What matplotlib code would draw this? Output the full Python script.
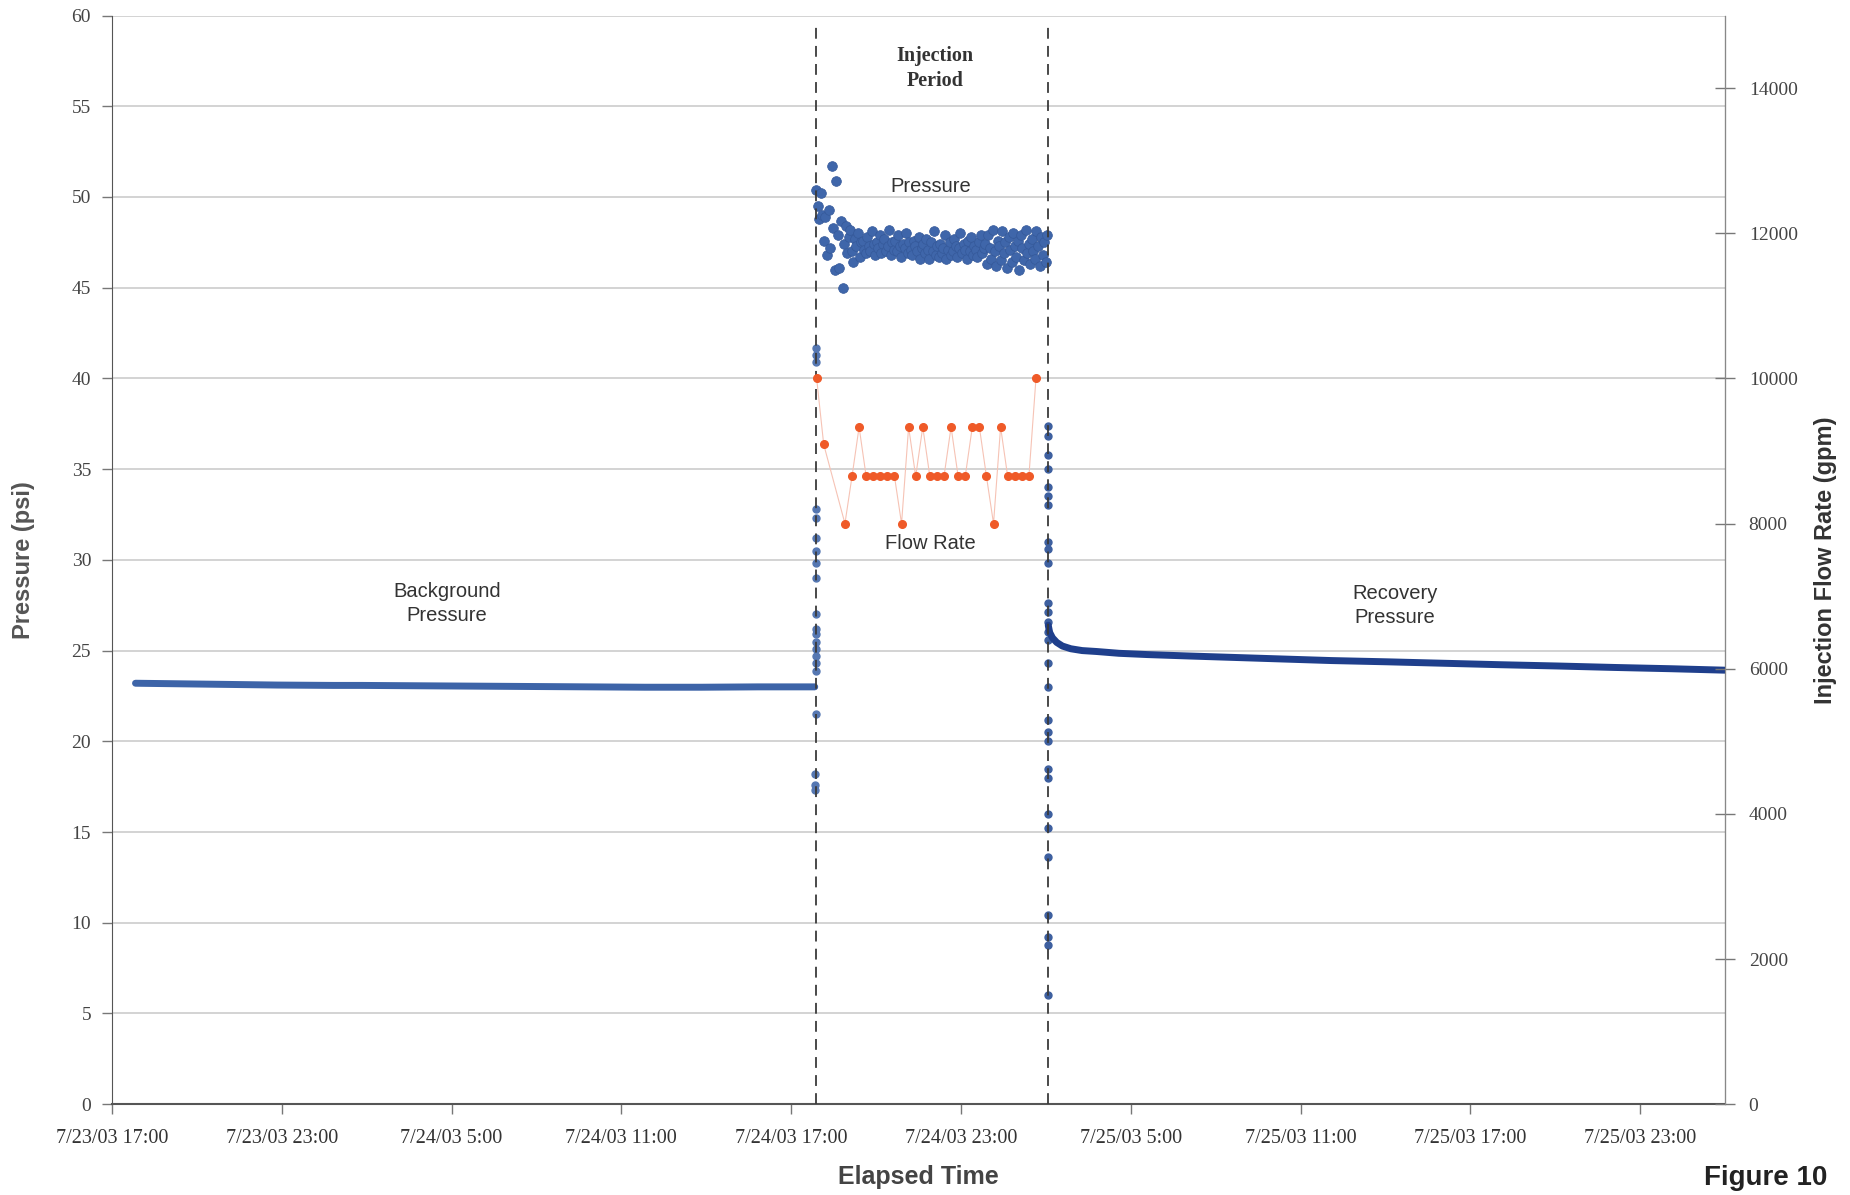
import numpy as np
import pandas as pd
import matplotlib
matplotlib.use("Agg")
import matplotlib.pyplot as plt

# ---- data ----
# background pressure (psi), hourly before injection
bg_start = "2003-07-23 17:50"
bg_pressure = [23.20, 23.18, 23.16, 23.14, 23.12, 23.10, 23.09, 23.08, 23.08, 23.07,
               23.06, 23.05, 23.04, 23.03, 23.02, 23.01, 23.00, 22.99, 22.98, 22.98,
               22.98, 22.99, 23.00, 23.00, 23.00]

# injection period pressure (psi), logger samples between start and end
inj_start = "2003-07-24 17:53"
inj_end = "2003-07-25 02:03"
inj_pressure = [50.4, 49.5, 48.8, 50.2, 49.0, 47.6, 48.9, 46.8, 49.3, 47.2,
                51.7, 48.3, 46.0, 50.9, 47.9, 46.1, 48.7, 45.0, 47.4, 48.4,
                46.9, 47.8, 48.2, 47.0, 46.4, 47.7, 47.3, 48.0, 46.7, 47.5,
                47.6, 47.1, 46.9, 47.8, 47.3, 47.0, 48.1, 47.4, 46.8, 47.5,
                47.2, 47.9, 46.9, 47.4, 47.7, 47.0, 47.3, 48.2, 46.8, 47.5,
                47.1, 47.6, 47.0, 47.9, 47.3, 46.7, 47.4, 47.2, 48.0, 46.9,
                47.5, 47.1, 46.8, 47.6, 47.3, 47.0, 47.8, 46.6, 47.2, 47.4,
                46.9, 47.7, 47.1, 46.6, 47.5, 47.0, 48.1, 46.8, 47.3, 46.7,
                47.4, 46.9, 47.2, 47.9, 46.6, 47.1, 47.5, 46.8, 47.0, 47.7,
                47.3, 46.7, 47.2, 48.0, 46.9, 47.4, 47.1, 46.6, 47.6, 47.0,
                47.8, 46.8, 47.3, 47.1, 46.7, 47.5, 47.9, 46.9, 47.2, 47.4,
                46.3, 47.9, 47.2, 46.6, 48.2, 47.0, 46.2, 47.6, 47.3, 46.5,
                48.1, 46.9, 47.5, 46.1, 47.8, 47.1, 46.4, 48.0, 47.3, 46.7,
                47.6, 46.0, 47.9, 47.2, 46.5, 48.2, 46.9, 47.4, 46.3, 47.7,
                47.0, 46.6, 48.1, 47.3, 46.2, 47.8, 46.8, 47.5, 46.4, 47.9]

# pressure readings while pump was switching on / off
on_times = ["2003-07-24 17:51", "2003-07-24 17:51", "2003-07-24 17:51", "2003-07-24 17:52",
            "2003-07-24 17:52", "2003-07-24 17:52", "2003-07-24 17:52", "2003-07-24 17:52",
            "2003-07-24 17:52", "2003-07-24 17:52", "2003-07-24 17:52", "2003-07-24 17:52",
            "2003-07-24 17:52", "2003-07-24 17:52", "2003-07-24 17:52", "2003-07-24 17:52",
            "2003-07-24 17:52", "2003-07-24 17:52", "2003-07-24 17:53", "2003-07-24 17:53",
            "2003-07-24 17:53"]
on_pressure = [17.3, 17.6, 18.2, 21.5, 23.9, 24.3, 24.7, 25.1, 25.5, 25.9, 26.2,
               27.0, 29.0, 29.8, 30.5, 31.2, 32.3, 32.8, 40.9, 41.3, 41.7]
off_times = ["2003-07-25 02:04"] * 29
off_pressure = [37.4, 36.8, 35.8, 35.0, 34.0, 33.5, 33.0, 31.0, 30.6, 29.8, 27.6,
                27.1, 26.6, 26.0, 25.6, 24.3, 23.0, 21.2, 20.5, 20.0, 18.5, 18.0,
                16.0, 15.2, 13.6, 10.4, 9.2, 8.8, 6.0]

# recovery pressure (hours after pump off, psi)
rec_start = "2003-07-25 02:05"
rec_hours = [0.0, 0.05, 0.15, 0.3, 0.5, 0.8, 1.2, 1.7, 2.5, 3.5, 5, 6, 7, 8, 10,
             12, 14, 16, 18, 20, 22, 23.9]
rec_pressure = [26.4, 26.0, 25.7, 25.45, 25.25, 25.1, 25.0, 24.95, 24.85, 24.78,
                24.7, 24.65, 24.6, 24.55, 24.45, 24.38, 24.3, 24.22, 24.15, 24.07,
                24.0, 23.92]

# flow rate (gpm), 15 minute readings (index from 17:54)
flow_index = [0, 1, 4, 5, 6, 7, 8, 9, 10, 11, 12, 13, 14, 15, 16, 17, 18, 19, 20,
              21, 22, 23, 24, 25, 26, 27, 28, 29, 30, 31]
flow_rate = [10000, 9090, 8000, 8650, 9330, 8650, 8650, 8650, 8650, 8650, 8000,
             9330, 8650, 9330, 8650, 8650, 8650, 9330, 8650, 8650, 9330, 9330,
             8650, 8000, 9330, 8650, 8650, 8650, 8650, 10000]

x_ticks = pd.date_range("2003-07-23 17:00", "2003-07-25 23:00", freq="6h")

# ---- build time columns ----
bg_t = pd.date_range(bg_start, periods=len(bg_pressure), freq="1h")
inj_t = pd.date_range(inj_start, inj_end, periods=len(inj_pressure))
rec_t = pd.Timestamp(rec_start) + pd.to_timedelta(rec_hours, unit="h")
flow_t = pd.Timestamp("2003-07-24 17:54") + pd.to_timedelta(np.array(flow_index) * 15, unit="min")

# ---- plot ----
fig = plt.figure(figsize=(18.5, 11.95), dpi=100)
ax = fig.add_axes([0.0605, 0.076, 0.872, 0.911])
ax2 = ax.twinx()

blue = "#3d64a8"
dark_blue = "#1f3f8c"

for v in range(0, 61, 5):
    ax.axhline(v, color="#c8c8c8", lw=1.1, zorder=0)

ax.plot(bg_t, bg_pressure, color=blue, lw=5, solid_capstyle="round", zorder=3)
ax.plot(inj_t, inj_pressure, "o", color="#3f66aa", ms=7, mec="#35599a", mew=0.5, zorder=3)
ax.plot(pd.to_datetime(on_times), on_pressure, "o", color="#5577b2", ms=5, zorder=3)
ax.plot(pd.to_datetime(off_times), off_pressure, "o", color="#3d5f9f", ms=5, zorder=3)
ax.plot(rec_t, rec_pressure, color=dark_blue, lw=5, solid_capstyle="round", zorder=3)

ax2.plot(flow_t, flow_rate, "-", color="#f6c3b5", lw=0.8, zorder=2)
ax2.plot(flow_t, flow_rate, "o", color="#ef5a28", ms=5.5, zorder=3)

for t in [inj_start, "2003-07-25 02:04"]:
    ax.axvline(pd.Timestamp(t), ymin=0, ymax=0.99, color="#3a3a3a", lw=1.3,
               ls=(0, (6, 4)), zorder=4)

ax.set_xlim(pd.Timestamp("2003-07-23 17:00"), pd.Timestamp("2003-07-26 02:00"))
ax.set_ylim(0, 60)
ax2.set_ylim(0, 15000)

ax.set_yticks(range(0, 61, 5))
ax2.set_yticks(range(0, 14001, 2000))
ax.set_xticks(x_ticks)
ax.set_xticklabels([f"{t.month}/{t.day}/{t:%y} {t.hour}:{t:%M}" for t in x_ticks])

serif = "Liberation Serif"
ax.tick_params(axis="y", direction="out", length=7, width=1, color="#777",
               labelsize=14, labelcolor="#444", pad=8)
ax.tick_params(axis="x", direction="out", length=7, width=1, color="#777",
               labelsize=14.5, labelcolor="#333", pad=11)
ax2.tick_params(axis="y", direction="inout", length=14, width=1, color="#777",
                labelsize=14, labelcolor="#444", pad=10)
for lab in ax.get_xticklabels() + ax.get_yticklabels() + ax2.get_yticklabels():
    lab.set_fontfamily(serif)

for a in (ax, ax2):
    a.spines["top"].set_visible(False)
ax.spines["left"].set_color("#555")
ax.spines["bottom"].set_color("#555")
ax.spines["bottom"].set_linewidth(1.5)
ax2.spines["right"].set_color("#888")
ax2.spines["left"].set_visible(False)
ax2.spines["bottom"].set_visible(False)

ax.set_ylabel("Pressure (psi)", fontsize=17, fontweight="bold", color="#555",
              family="Liberation Sans", labelpad=26)
ax2.set_ylabel("Injection Flow Rate (gpm)", fontsize=17, fontweight="bold", color="#333",
               family="Liberation Sans", labelpad=12)
ax.set_xlabel("Elapsed Time", fontsize=18, fontweight="bold", color="#444",
              family="Liberation Sans", labelpad=12)

txt = dict(fontsize=14.5, color="#333", family="Liberation Sans", ha="center",
           va="center", linespacing=1.35, zorder=5)
ax.text(pd.Timestamp("2003-07-24 04:50"), 27.6, "Background\nPressure", **txt)
ax.text(pd.Timestamp("2003-07-25 14:20"), 27.5, "Recovery\nPressure", **txt)
ax.text(pd.Timestamp("2003-07-24 21:55"), 50.6, "Pressure", **txt)
ax.text(pd.Timestamp("2003-07-24 21:55"), 30.9, "Flow Rate", **txt)
ax.text(pd.Timestamp("2003-07-24 22:05"), 57.1, "Injection\nPeriod", fontsize=14.5,
        fontweight="bold", color="#333", family=serif, ha="center", va="center",
        linespacing=1.35)

fig.text(0.921, 0.003, "Figure 10", fontsize=20, fontweight="bold", color="#222",
         family="Liberation Sans", ha="left", va="bottom")

fig.savefig("out.png", dpi=100)
